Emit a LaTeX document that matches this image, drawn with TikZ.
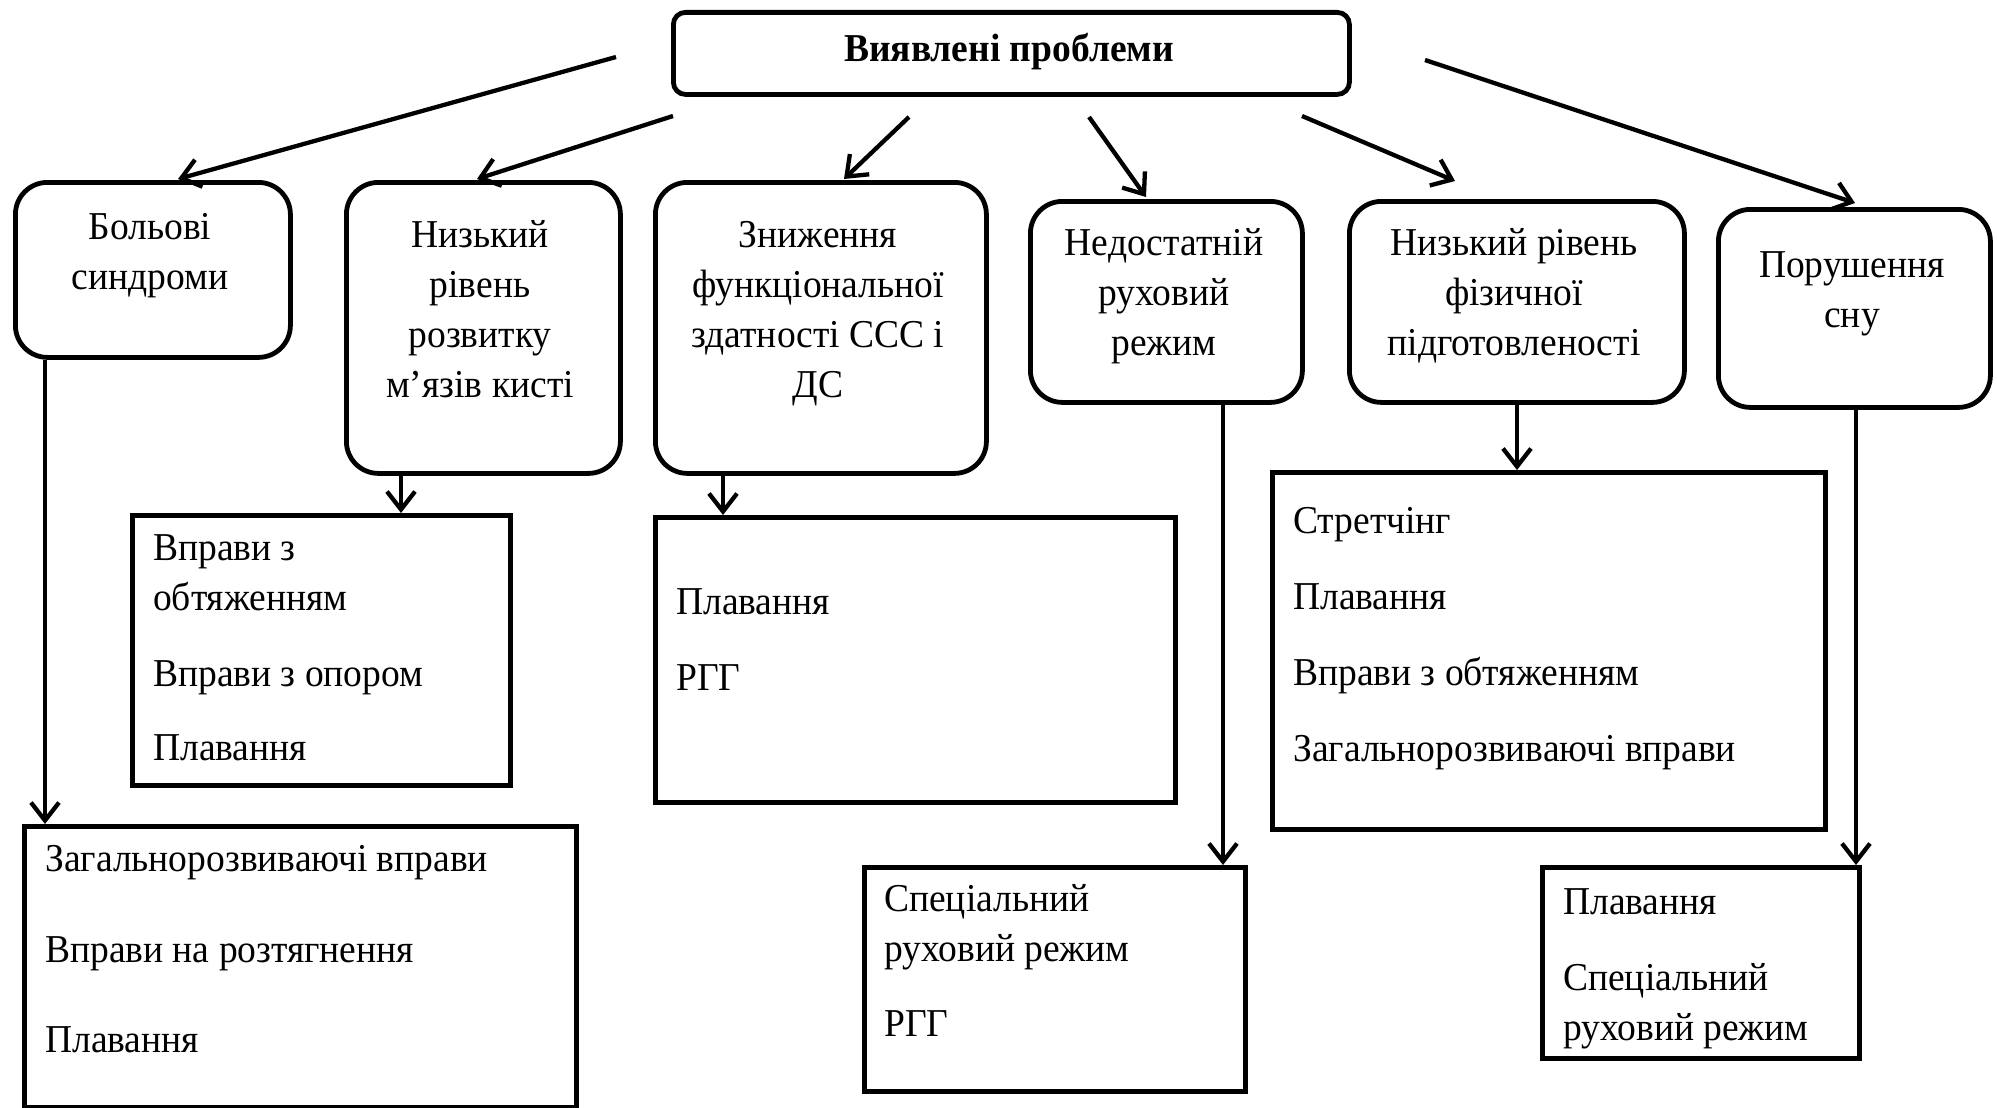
\documentclass[tikz,border=0pt]{standalone}
\usepackage{fontspec}
\setmainfont[FakeStretch=0.95]{Liberation Serif}
\usetikzlibrary{arrows.meta,calc}
\begin{document}
\begin{tikzpicture}[x=1pt,y=-1pt,
  rbox/.style={draw, line width=4.8pt, rounded corners=32pt, inner sep=0pt, anchor=north west},
  sbox/.style={draw, line width=4.8pt, inner sep=0pt, anchor=north west},
  txt/.style={inner sep=0pt, font=\fontsize{39.5}{50}\selectfont},
  ctxt/.style={txt, align=center, anchor=north},
  ltxt/.style={txt, align=left, anchor=north west},
  arr/.style={line width=4.3pt, -{Straight Barb[length=18pt,width=28pt,line width=4.3pt]}}
]
\useasboundingbox (0,0) rectangle (1997,1108);

% top box
\node[rbox, rounded corners=12pt, minimum width=676pt, minimum height=82pt] (top) at (671,10) {};
\node[txt, font=\fontsize{39.5}{50}\selectfont\bfseries, anchor=base] (ttop) at (1009,62) {Виявлені проблеми};

% row 1
\node[rbox, minimum width=275pt, minimum height=175pt] (b1) at (13,180) {};
\node[rbox, minimum width=274pt, minimum height=291pt] (b2) at (344,180) {};
\node[rbox, minimum width=331pt, minimum height=291pt] (b3) at (653,180) {};
\node[rbox, minimum width=272pt, minimum height=201pt] (b4) at (1028,199) {};
\node[rbox, minimum width=335pt, minimum height=201pt] (b5) at (1347,199) {};
\node[rbox, minimum width=272pt, minimum height=198pt] (b6) at (1716,207) {};

\node[ctxt] (t1) at (150,204) {\strut Больові\\\strut синдроми};
\node[ctxt] (t2) at (480,212) {\strut Низький\\\strut рівень\\\strut розвитку\\\strut м’язів кисті};
\node[ctxt] (t3) at (818,212) {\strut Зниження\\\strut функціональної\\\strut здатності ССС і\\\strut ДС};
\node[ctxt] (t4) at (1164,220) {\strut Недостатній\\\strut руховий\\\strut режим};
\node[ctxt] (t5) at (1514,220) {\strut Низький рівень\\\strut фізичної\\\strut підготовленості};
\node[ctxt] (t6) at (1852,242) {\strut Порушення\\\strut сну};

% row 2
\node[sbox, minimum width=378pt, minimum height=270pt] (bA) at (130,513) {};
\node[sbox, minimum width=520pt, minimum height=285pt] (bB) at (653,515) {};
\node[sbox, minimum width=553pt, minimum height=357pt] (bC) at (1270,470) {};
\node[sbox, minimum width=552pt, minimum height=281pt] (bD) at (22,824) {};
\node[sbox, minimum width=381pt, minimum height=224pt] (bE) at (862,865) {};
\node[sbox, minimum width=317pt, minimum height=191pt] (bF) at (1540,865) {};

\node[ltxt] (tA) at (153,525) {\strut Вправи з\\\strut обтяженням\\[26pt]\strut Вправи з опором\\[24pt]\strut Плавання};
\node[ltxt] (tB) at (676,579) {\strut Плавання\\[26pt]\strut РГГ};
\node[ltxt] (tC) at (1293,498) {\strut Стретчінг\\[26pt]\strut Плавання\\[26pt]\strut Вправи з обтяженням\\[26pt]\strut Загальнорозвиваючі вправи};
\node[ltxt] (tD) at (45,836) {\strut Загальнорозвиваючі вправи\\[41pt]\strut Вправи на розтягнення\\[40pt]\strut Плавання};
\node[ltxt] (tE) at (884,876) {\strut Спеціальний\\\strut руховий режим\\[25pt]\strut РГГ};
\node[ltxt] (tF) at (1563,879) {\strut Плавання\\[26pt]\strut Спеціальний\\\strut руховий режим};

% diagonal arrows from the top
\coordinate (s1) at (616,57);
\coordinate (s2) at (673,116);
\coordinate (s3) at (909,117);
\coordinate (s4) at (1089,117);
\coordinate (s5) at (1302,116);
\coordinate (s6) at (1425,60);
\draw[arr] (s1) -- ($(b1.north west)+(165,-1)$);
\draw[arr] (s2) -- ($(b2.north west)+(133,-1)$);
\draw[arr] (s3) -- ($(b3.north west)+(191,-1)$);
\draw[arr] (s4) -- ($(b4.north west)+(118,-2)$);
\draw[arr] (s5) -- ($(b5.north west)+(108,-18)$);
\draw[arr] (s6) -- ($(b6.north west)+(139,-4)$);

% vertical arrows
\coordinate (x1) at (45,0);
\coordinate (x2) at (401,0);
\coordinate (x3) at (723,0);
\coordinate (x4) at (1223,0);
\coordinate (x5) at (1517,0);
\coordinate (x6) at (1856,0);
\draw[arr] (b1.south -| x1) -- (bD.north -| x1);
\draw[arr] (b2.south -| x2) -- (bA.north -| x2);
\draw[arr] (b3.south -| x3) -- (bB.north -| x3);
\draw[arr] (b4.south -| x4) -- (bE.north -| x4);
\draw[arr] (b5.south -| x5) -- (bC.north -| x5);
\draw[arr] (b6.south -| x6) -- (bF.north -| x6);
\end{tikzpicture}
\end{document}
